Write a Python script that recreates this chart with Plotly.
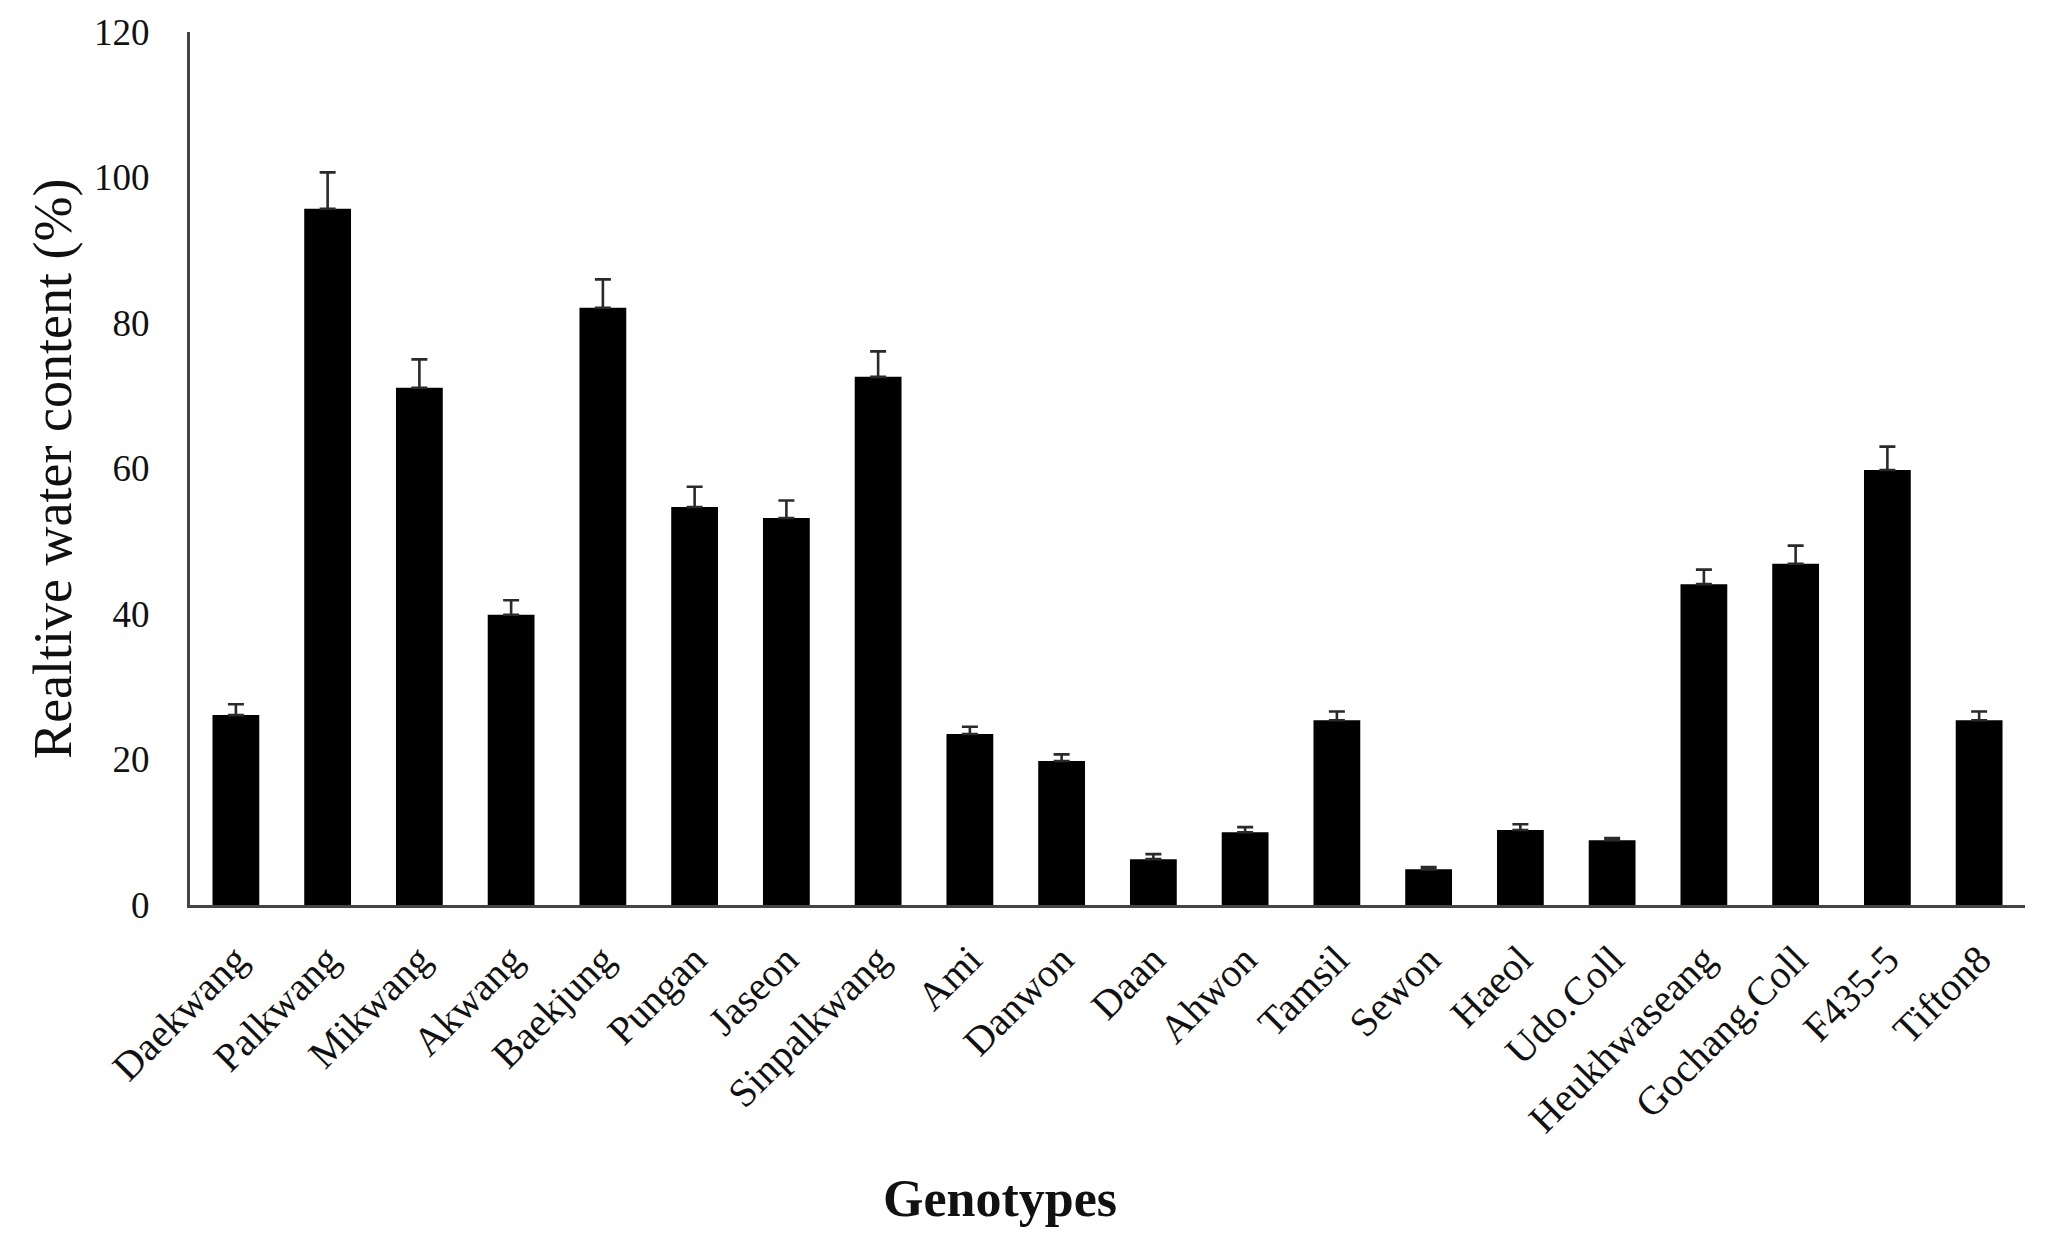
import plotly.graph_objects as go

genotypes = ["Daekwang", "Palkwang", "Mikwang", "Akwang", "Baekjung", "Pungan",
             "Jaseon", "Sinpalkwang", "Ami", "Danwon", "Daan", "Ahwon", "Tamsil",
             "Sewon", "Haeol", "Udo.Coll", "Heukhwaseang", "Gochang.Coll",
             "F435-5", "Tifton8"]
rwc = [26.1, 95.7, 71.1, 39.9, 82.1, 54.7, 53.2, 72.6, 23.5, 19.8, 6.3, 10.0,
       25.4, 4.9, 10.3, 8.9, 44.1, 46.9, 59.8, 25.4]
err = [1.5, 5.0, 3.9, 2.0, 3.9, 2.8, 2.4, 3.5, 1.0, 0.9, 0.7, 0.7,
       1.2, 0.3, 0.8, 0.3, 2.0, 2.5, 3.2, 1.2]
y_ticks = [0, 20, 40, 60, 80, 100, 120]

FONT = "Liberation Serif, Times New Roman, serif"

fig = go.Figure()
fig.add_trace(go.Bar(
    x=genotypes, y=rwc, width=0.51,
    marker=dict(color="black", line=dict(width=0)),
    error_y=dict(type="data", array=err, arrayminus=[0] * len(err),
                 symmetric=False, color="#2a2a2a", thickness=2.6, width=8),
))

fig.update_layout(
    width=2064, height=1237,
    margin=dict(l=190, r=39, t=27, b=332),
    paper_bgcolor="white", plot_bgcolor="white",
    showlegend=False,
    font=dict(family=FONT, color="black"),
    bargap=0.49,
    xaxis=dict(
        showline=True, linecolor="#444444", linewidth=3,
        showgrid=False, ticks="", tickangle=-45,
        tickfont=dict(family=FONT, size=40, color="#111111"),
        ticklabelstandoff=12,
        range=[-0.5, len(genotypes) - 0.5],
    ),
    yaxis=dict(
        range=[0, 120], tickvals=y_ticks,
        showline=True, linecolor="#444444", linewidth=3,
        showgrid=False, ticks="", zeroline=False,
        tickfont=dict(family=FONT, size=37, color="#111111"),
        ticklabelstandoff=30,
    ),
)

fig.add_annotation(
    text="Realtive water content (%)", xref="paper", yref="paper",
    x=-0.075, y=0.5, xanchor="center", yanchor="middle", textangle=-90,
    showarrow=False, font=dict(family=FONT, size=54, color="#111111"),
)
fig.add_annotation(
    text="<b>Genotypes</b>", xref="paper", yref="paper",
    x=(1000 - 190) / (2025 - 190), y=0, xanchor="center", yanchor="middle",
    yshift=-(1198 - 905), showarrow=False,
    font=dict(family=FONT, size=52, color="#111111"),
)

fig.write_html("out.html")
